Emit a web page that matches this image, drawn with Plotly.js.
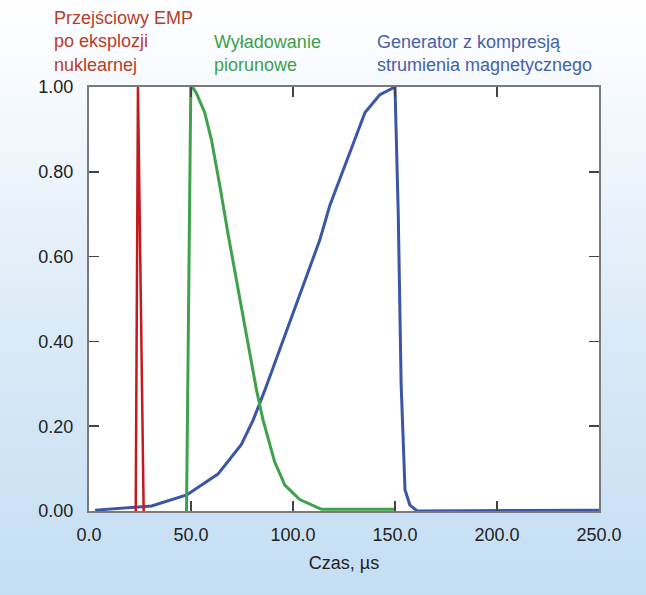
<!DOCTYPE html>
<html>
<head>
<meta charset="utf-8">
<script src="https://cdn.plot.ly/plotly-3.0.1.min.js"></script>
<style>
html, body { margin: 0; padding: 0; }
body {
  width: 646px; height: 595px; overflow: hidden;
  background: linear-gradient(to bottom, #ffffff 0%, #f3f8fd 20%, #dbeaf7 55%, #c4def4 100%);
}
#chart { width: 646px; height: 595px; }
</style>
</head>
<body>
<div id="chart"></div>
<script>
// Przejściowy EMP po eksplozji nuklearnej
const empX = [22.9, 24.0, 26.8];
const empY = [0.0, 1.0, 0.0];

// Wyładowanie piorunowe
const lightX = [47.8, 49.9, 50.7, 52.6, 56.7, 60.0, 64.1, 68.1, 82.0, 85.3, 91.0, 96.0, 103.3, 114.0, 150.0];
const lightY = [0.0, 1.0, 1.0, 0.986, 0.94, 0.876, 0.768, 0.655, 0.288, 0.215, 0.116, 0.061, 0.027, 0.004, 0.004];

// Generator z kompresją strumienia magnetycznego
const fluxX = [3.0, 22.4, 30.7, 47.9, 63.2, 74.7, 80.5, 86.2, 113.2, 118.0, 135.3, 142.6, 150.0, 151.6, 153.0, 154.9, 157.3, 160.9, 250.0];
const fluxY = [0.002, 0.010, 0.012, 0.038, 0.087, 0.157, 0.215, 0.285, 0.640, 0.720, 0.940, 0.982, 1.0, 0.70, 0.30, 0.05, 0.014, 0.0, 0.002];

const xTicks = [0, 50, 100, 150, 200, 250];
const yTicks = [0, 0.2, 0.4, 0.6, 0.8, 1.0];

const labels = {
  emp: 'Przejściowy EMP<br>po eksplozji<br>nuklearnej',
  light: 'Wyładowanie<br>piorunowe',
  flux: 'Generator z kompresją<br>strumienia magnetycznego',
  xTitle: 'Czas, µs'
};

const FONT = 'Liberation Sans, Arial, Helvetica, sans-serif';

const traces = [
  { x: fluxX, y: fluxY, mode: 'lines', line: { color: '#3a56a6', width: 3 }, hoverinfo: 'skip' },
  { x: lightX, y: lightY, mode: 'lines', line: { color: '#3da24b', width: 3 }, hoverinfo: 'skip' },
  { x: empX, y: empY, mode: 'lines', line: { color: '#c41a1f', width: 2.5 }, hoverinfo: 'skip' }
];

const axisCommon = {
  showgrid: false, zeroline: false,
  showline: true, linecolor: '#7a7a7a', linewidth: 2, mirror: 'ticks',
  ticks: 'inside', ticklen: 10, tickwidth: 1.5, tickcolor: '#444',
  tickfont: { family: FONT, size: 18, color: '#222' }
};

const layout = {
  width: 646, height: 595,
  margin: { l: 89, r: 47, t: 87, b: 84 },
  paper_bgcolor: 'rgba(0,0,0,0)',
  plot_bgcolor: '#ffffff',
  showlegend: false,
  xaxis: Object.assign({}, axisCommon, {
    range: [0, 250], tickvals: xTicks, tickformat: '.1f',
    ticklabelstandoff: 6,
    title: { text: labels.xTitle, font: { family: FONT, size: 18, color: '#222' }, standoff: 13 }
  }),
  yaxis: Object.assign({}, axisCommon, {
    range: [0, 1], tickvals: yTicks, tickformat: '.2f',
    ticklabelstandoff: 10
  }),
  annotations: [
    { text: labels.emp, xref: 'paper', yref: 'paper', x: -0.072, y: 1, yshift: 10,
      xanchor: 'left', yanchor: 'bottom', align: 'left', showarrow: false,
      font: { family: FONT, size: 18, color: '#b83b2b' } },
    { text: labels.light, xref: 'paper', yref: 'paper', x: 0.241, y: 1, yshift: 10,
      xanchor: 'left', yanchor: 'bottom', align: 'left', showarrow: false,
      font: { family: FONT, size: 18, color: '#3e9e4c' } },
    { text: labels.flux, xref: 'paper', yref: 'paper', x: 0.561, y: 1, yshift: 10,
      xanchor: 'left', yanchor: 'bottom', align: 'left', showarrow: false,
      font: { family: FONT, size: 18, color: '#4660a8' } }
  ]
};

Plotly.newPlot('chart', traces, layout, { displayModeBar: false, staticPlot: true });
</script>
</body>
</html>
